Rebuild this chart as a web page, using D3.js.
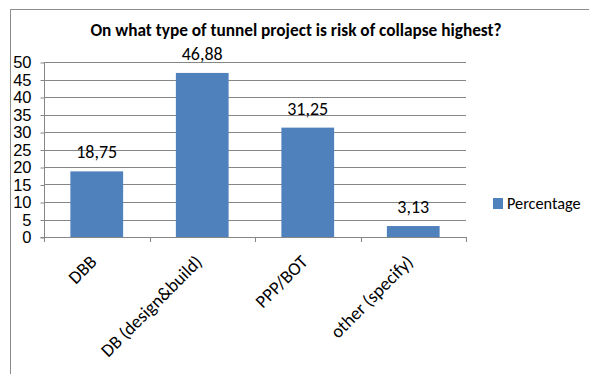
<!DOCTYPE html>
<html>
<head>
<meta charset="utf-8">
<script src="https://cdn.jsdelivr.net/npm/d3@7"></script>
<style>
  html, body { margin: 0; padding: 0; background: #fff; }
  svg { display: block; font-family: Carlito, "Liberation Sans Narrow", "Open Sans", sans-serif; }
</style>
</head>
<body>
<svg id="chart" width="589" height="374"></svg>
<script>
// Survey results: project delivery type vs. perceived collapse risk
const categories = ["DBB", "DB (design&build)", "PPP/BOT", "other (specify)"];
const percentages = [18.75, 46.88, 31.25, 3.13];
const valueLabels = ["18,75", "46,88", "31,25", "3,13"];
const yTicks = [0, 5, 10, 15, 20, 25, 30, 35, 40, 45, 50];
const seriesName = "Percentage";
const title = "On what type of tunnel project is risk of collapse highest?";

const svg = d3.select("#chart");
const barColor = "#4F81BD";
const gridColor = "#868686";

// Outer chart frame (top and left edges visible)
svg.append("path")
  .attr("d", "M10.5,374 L10.5,9.5 L589,9.5")
  .attr("fill", "none")
  .attr("stroke", "#8c8c8c")
  .attr("stroke-width", 1);

const plot = { left: 44, right: 466, top: 62, bottom: 237 };

const x = d3.scaleBand()
  .domain(categories)
  .range([plot.left, plot.right])
  .paddingInner(0.5)
  .paddingOuter(0.25);

const y = d3.scaleLinear()
  .domain([0, 50])
  .range([plot.bottom, plot.top]);

// Horizontal gridlines
svg.append("g")
  .selectAll("line")
  .data(yTicks.filter(t => t > 0))
  .join("line")
  .attr("x1", plot.left)
  .attr("x2", plot.right)
  .attr("y1", d => Math.round(y(d)) + 0.5)
  .attr("y2", d => Math.round(y(d)) + 0.5)
  .attr("stroke", gridColor)
  .attr("stroke-width", 1);

// Bars
svg.append("g")
  .selectAll("rect")
  .data(percentages)
  .join("rect")
  .attr("x", (d, i) => x(categories[i]))
  .attr("width", x.bandwidth())
  .attr("y", d => y(d))
  .attr("height", d => y(0) - y(d))
  .attr("fill", barColor);

// Y axis
const yAxis = svg.append("g")
  .attr("transform", `translate(${plot.left + 0.5},0)`)
  .call(d3.axisLeft(y).tickValues(yTicks).tickSize(4).tickPadding(9));
yAxis.select(".domain").attr("stroke", gridColor).attr("d", `M-4,${plot.bottom + 0.5}H0V${plot.top}`);
yAxis.selectAll(".tick line").attr("stroke", gridColor).attr("transform", "translate(0,0.5)");
yAxis.selectAll(".tick text")
  .attr("font-size", 16.5)
  .attr("fill", "#000")
  .attr("dy", "0.36em");

// X axis baseline with category boundary ticks
const xAxisG = svg.append("g");
xAxisG.append("line")
  .attr("x1", plot.left).attr("x2", plot.right)
  .attr("y1", plot.bottom + 0.5).attr("y2", plot.bottom + 0.5)
  .attr("stroke", gridColor);
const boundaries = d3.range(categories.length + 1).map(i => plot.left + i * (plot.right - plot.left) / categories.length);
xAxisG.selectAll("line.tick")
  .data(boundaries)
  .join("line")
  .attr("class", "tick")
  .attr("x1", d => Math.round(d) + 0.5).attr("x2", d => Math.round(d) + 0.5)
  .attr("y1", plot.bottom).attr("y2", plot.bottom + 5)
  .attr("stroke", gridColor);

// Rotated category labels
xAxisG.selectAll("text")
  .data(categories)
  .join("text")
  .attr("transform", d => `translate(${x(d) + x.bandwidth() / 2 + 1},${plot.bottom + 26}) rotate(-45)`)
  .attr("text-anchor", "end")
  .attr("font-size", 18.3)
  .attr("fill", "#000")
  .text(d => d);

// Value labels above bars
svg.append("g")
  .selectAll("text")
  .data(percentages)
  .join("text")
  .attr("x", (d, i) => x(categories[i]) + x.bandwidth() / 2)
  .attr("y", d => y(d) - 13)
  .attr("text-anchor", "middle")
  .attr("font-size", 18)
  .attr("fill", "#000")
  .text((d, i) => valueLabels[i]);

// Title
svg.append("text")
  .attr("x", 296)
  .attr("y", 36)
  .attr("text-anchor", "middle")
  .attr("font-size", 17.3)
  .attr("font-weight", "bold")
  .attr("fill", "#000")
  .text(title);

// Legend
const legend = svg.append("g").attr("transform", "translate(493,198)");
legend.append("rect").attr("width", 10).attr("height", 11).attr("fill", barColor);
legend.append("text")
  .attr("x", 14).attr("y", 11)
  .attr("font-size", 16.3)
  .attr("fill", "#000")
  .text(seriesName);
</script>
</body>
</html>
